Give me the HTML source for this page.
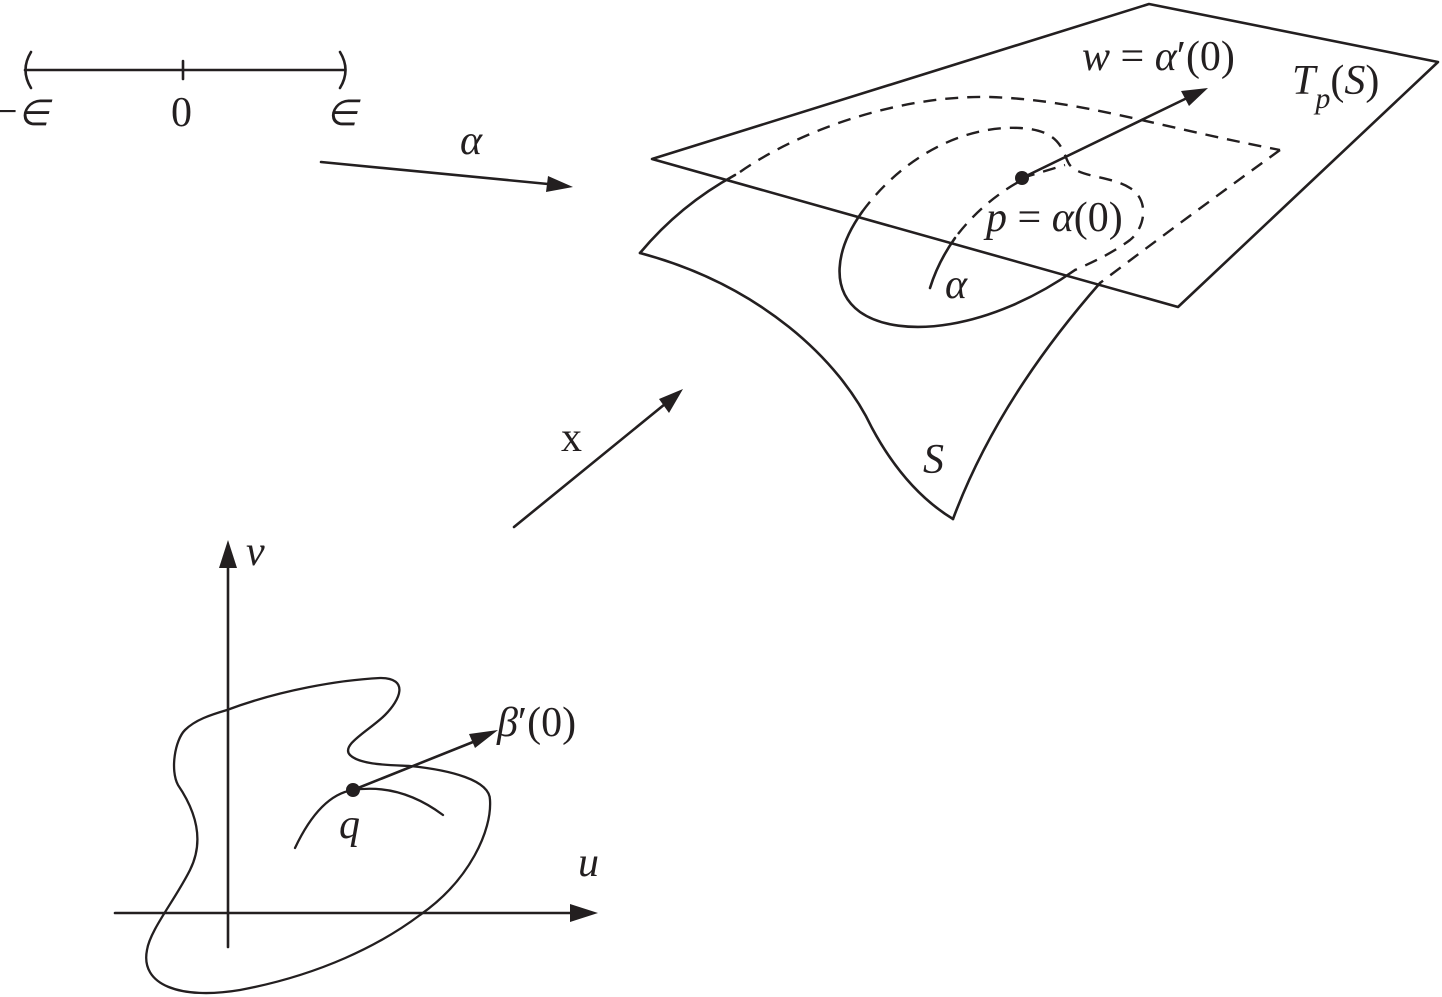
<!DOCTYPE html>
<html><head><meta charset="utf-8"><style>
html,body{margin:0;padding:0;background:#fff;}
svg{display:block}
text{font-family:"Liberation Serif",serif;fill:#231f20;}
</style></head><body>
<svg width="1442" height="997" viewBox="0 0 1442 997" xmlns="http://www.w3.org/2000/svg">
<g fill="none" stroke="#231f20" stroke-width="2.6" stroke-linecap="round" stroke-linejoin="round">
<line x1="25" y1="70" x2="345" y2="70"/>
<line x1="183" y1="61" x2="183" y2="79"/>
<path d="M31,52 Q20,70 31,88"/>
<path d="M340,52 Q351,70 340,88"/>
<line x1="321" y1="162" x2="548" y2="184"/>
<line x1="514" y1="527" x2="665" y2="404"/>
<path d="M652,159 L1149,4 L1438,62 L1178,307 Z"/>
<path d="M640,253 Q680,205 735,175"/>
<path d="M640,253 C760,285 840,360 872,428 C900,480 930,505 953,519"/>
<path d="M953,519 C990,420 1050,340 1100,283"/>
<path d="M930,288 Q938,262 955,238"/>
<path d="M862,212 C835,250 830,290 860,312 C900,340 990,330 1075,270"/>
<line x1="1022" y1="178" x2="1185" y2="99"/>
<line x1="228" y1="947" x2="228" y2="565"/>
<line x1="115" y1="913" x2="575" y2="913"/>
<path d="M227,710 C280,690 340,680 380,678 C410,678 400,700 385,715 C370,730 340,745 350,755 C360,765 390,765 410,766 C450,770 490,780 490,800 C492,830 470,880 420,915 C380,945 320,975 240,990 C180,1000 140,985 147,950 C150,930 175,900 190,870 C205,840 195,810 178,785 C170,770 175,740 185,730 C195,720 210,715 227,710 Z" stroke-width="2.3"/>
<path d="M295,848 Q320,795 353,790 Q400,783 443,815" stroke-width="2.3"/>
<line x1="353" y1="790" x2="478" y2="740"/>
</g>
<g fill="none" stroke="#231f20" stroke-width="2.4" stroke-dasharray="13,9">
<path d="M740,172 C800,130 900,95 990,97 C1080,100 1150,125 1280,150"/>
<path d="M1280,150 Q1190,215 1100,283"/>
<path d="M958,234 Q985,200 1022,180"/>
<path d="M862,212 C900,160 960,125 1020,128 C1060,130 1062,150 1068,162 C1075,178 1110,175 1130,188 C1150,200 1145,228 1130,240 Q1110,255 1075,270"/>
<path d="M1022,178 L1065,165"/>
</g>
<g fill="#231f20">
<polygon points="573,187 546,192 548,176"/>
<polygon points="683,389 669,413 659,399"/>
<polygon points="1208,88 1189,106 1181,91"/>
<polygon points="228,540 219,568 237,568"/>
<polygon points="598,913 570,904 570,922"/>
<polygon points="498,730 475,748 469,734"/>
<circle cx="1022" cy="178" r="7"/>
<circle cx="353" cy="790" r="7"/>
</g>
<g font-size="42">
<text x="-6" y="125">−<tspan font-style="italic" font-size="36">∈</tspan></text>
<text x="171" y="126">0</text>
<text x="326" y="125" font-style="italic" font-size="36">∈</text>
<text x="460" y="154" font-style="italic">α</text>
<text x="561" y="451">x</text>
<text x="1082" y="70"><tspan font-style="italic">w</tspan> = <tspan font-style="italic">α</tspan>′(0)</text>
<text x="1292" y="94"><tspan font-style="italic">T</tspan><tspan font-style="italic" font-size="30" dy="14">p</tspan><tspan dy="-14">(</tspan><tspan font-style="italic">S</tspan>)</text>
<text x="986" y="231"><tspan font-style="italic">p</tspan> = <tspan font-style="italic">α</tspan>(0)</text>
<text x="945" y="298" font-style="italic">α</text>
<text x="923" y="473" font-style="italic">S</text>
<text x="246" y="565" font-style="italic">v</text>
<text x="578" y="876" font-style="italic">u</text>
<text x="497" y="736"><tspan font-style="italic">β</tspan>′(0)</text>
<text x="339" y="838" font-style="italic">q</text>
</g>
</svg>
</body></html>
